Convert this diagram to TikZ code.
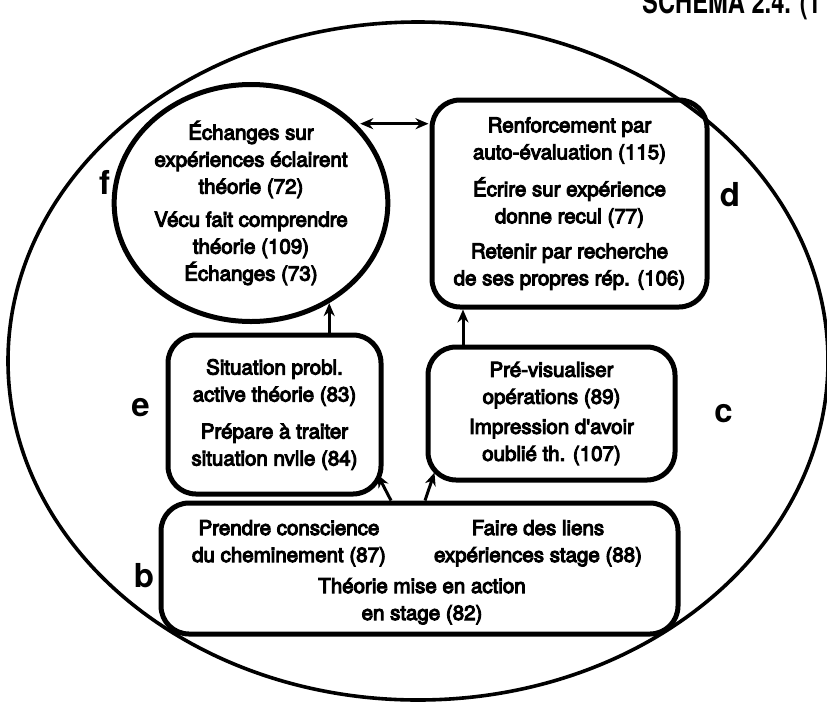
\documentclass[tikz,border=0pt]{standalone}
\usepackage{fontspec}
\setmainfont{TeX Gyre Heros}
\newfontfamily\bodyfont{TeX Gyre Heros}[FakeBold=5]
\usetikzlibrary{shapes.geometric,arrows.meta}
\begin{document}
\begin{tikzpicture}[x=1pt,y=-1pt,
  txt/.style={font=\bodyfont\fontsize{20.5}{27}\selectfont, align=center},
  boxed/.style={txt, draw, line width=5pt, rounded corners=28pt, inner sep=0pt},
  oval/.style={txt, draw, ellipse, line width=5pt, inner sep=0pt},
  tag/.style={font=\bfseries\fontsize{33}{33}\selectfont, anchor=base},
  arr/.style={line width=3pt, -{Stealth[length=13pt,width=11pt]}},
  dblarr/.style={line width=3pt, {Stealth[length=13pt,width=11pt]}-{Stealth[length=13pt,width=11pt]}}]
\useasboundingbox (0,0) rectangle (827,702);
\clip (0,0) rectangle (827,702);

% running head, partly cut off by the page edge
\node[font=\bfseries\fontsize{32}{32}\selectfont, anchor=base west, inner sep=0pt] (head) at (642,13) {\scalebox{0.74}[1]{SCHEMA 2.4. (1}};

% outer ellipse
\node[draw, ellipse, line width=3.6pt, minimum width=820pt, minimum height=678pt, inner sep=0pt] (outer) at (418,361) {};

% f
\node[oval, minimum width=255pt, minimum height=237pt] (f) at (251,203)
  {Échanges sur\\expériences éclairent\\théorie (72)\\[6pt]Vécu fait comprendre\\théorie (109)\\Échanges (73)};
% d
\node[boxed, minimum width=275pt, minimum height=207pt] (d) at (569.5,203.5)
  {Renforcement par\\auto-évaluation (115)\\[10pt]Écrire sur expérience\\donne recul (77)\\[8pt]Retenir par recherche\\de ses propres rép. (106)};
% e
\node[boxed, minimum width=213pt, minimum height=159pt] (e) at (274.5,414.5)
  {Situation probl.\\active théorie (83)\\[10pt]Prépare à traiter\\situation nvlle (84)};
% c
\node[boxed, minimum width=247pt, minimum height=133pt] (c) at (551.5,413.5)
  {Pré-visualiser\\opérations (89)\\[3pt]Impression d'avoir\\oublié th. (107)};
% b
\node[boxed, minimum width=517pt, minimum height=131pt] (b) at (419.5,568.5) {};
\node[txt, anchor=base] (b1) at (289,562) {Prendre conscience\\du cheminement (87)};
\node[txt, anchor=base] (b2) at (538,562) {Faire des liens\\expériences stage (88)};
\node[txt, anchor=base] (b3) at (422,620) {Théorie mise en action\\en stage (82)};

% letters
\node[tag] (lf) at (104.5,194) {f};
\node[tag] (ld) at (730,206) {d};
\node[tag] (le) at (140.5,416) {e};
\node[tag] (lc) at (723.5,422) {c};
\node[tag] (lb) at (144,587) {b};

% connectors
\draw[dblarr] ([xshift=4pt]f.37) -- ([xshift=-1pt]f.37 -| d.west);
\draw[arr] (f.-52 |- e.north) -- (f.-52);
\draw[arr] ([xshift=-88.5pt]c.north) -- ([xshift=-88.5pt]d.south -| c.north);
\draw[arr] ([xshift=-28.5pt]b.north) -- ([shift={(-6pt,22pt)}]e.south east);
\draw[arr] ([xshift=5.5pt]b.north) -- ([shift={(9pt,10pt)}]c.south west);
\end{tikzpicture}
\end{document}
